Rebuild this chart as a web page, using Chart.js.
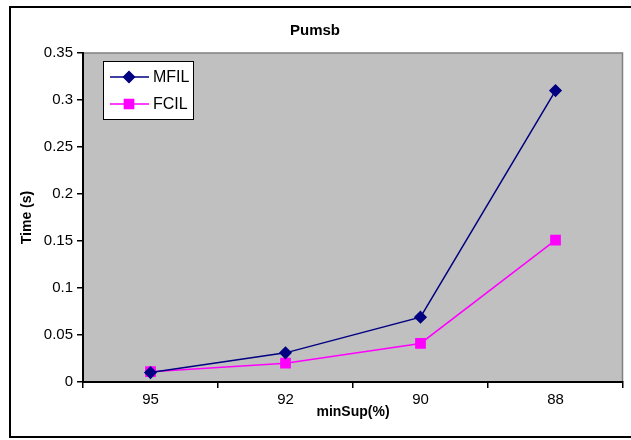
<!DOCTYPE html>
<html lang="en">
<head>
    <meta charset="UTF-8">
    <title>Pumsb</title>
    <script src="https://cdn.jsdelivr.net/npm/chart.js"></script>
    <style>
        body {
            margin: 0;
            padding: 0;
            background-color: white;
        }
        .chart-container {
            width: 631px;
            height: 440px;
        }
    </style>
</head>
<body>

<div class="chart-container">
    <canvas id="grafico"></canvas>
</div>

<script>
// Dados do gráfico
var categorias = ['95', '92', '90', '88'];
var valoresMFIL = [0.01, 0.031, 0.069, 0.31];
var valoresFCIL = [0.011, 0.02, 0.041, 0.151];
var ticksY = [0, 0.05, 0.1, 0.15, 0.2, 0.25, 0.3, 0.35];

var fonte = "'Liberation Sans', Arial, sans-serif";

// Fundo cinzento da área do gráfico e moldura exterior
var fundoPlugin = {
    id: 'fundo',
    beforeDraw: function(chart) {
        var ctx = chart.ctx;
        var a = chart.chartArea;
        ctx.save();
        ctx.fillStyle = '#ffffff';
        ctx.fillRect(0, 0, chart.width, chart.height);
        ctx.fillStyle = '#c0c0c0';
        ctx.fillRect(a.left, a.top, a.right - a.left, a.bottom - a.top);
        ctx.strokeStyle = '#808080';
        ctx.lineWidth = 1.5;
        ctx.beginPath();
        ctx.moveTo(a.left, a.top);
        ctx.lineTo(a.right - 0.5, a.top);
        ctx.lineTo(a.right - 0.5, a.bottom);
        ctx.stroke();
        // moldura
        ctx.strokeStyle = '#000000';
        ctx.lineWidth = 2;
        ctx.strokeRect(10, 7, chart.width + 20, 430);
        ctx.restore();
    }
};

// Legenda dentro da área do gráfico
var legendaPlugin = {
    id: 'legendaInterna',
    afterDraw: function(chart) {
        var ctx = chart.ctx;
        var x = 103, y = 61, w = 90, h = 58;
        ctx.save();
        ctx.fillStyle = '#ffffff';
        ctx.fillRect(x, y, w, h);
        ctx.strokeStyle = '#000000';
        ctx.lineWidth = 1;
        ctx.strokeRect(x + 0.5, y + 0.5, w, h);
        chart.data.datasets.forEach(function(ds, i) {
            var ly = y + 16 + i * 27;
            ctx.strokeStyle = ds.borderColor;
            ctx.lineWidth = 1.5;
            ctx.beginPath();
            ctx.moveTo(x + 7, ly);
            ctx.lineTo(x + 46, ly);
            ctx.stroke();
            Chart.helpers.drawPoint(ctx, {
                pointStyle: ds.pointStyle,
                radius: ds.pointRadius,
                borderWidth: 1
            }, x + 26, ly);
            ctx.fillStyle = ds.backgroundColor;
            ctx.strokeStyle = ds.borderColor;
            ctx.fill();
            ctx.fillStyle = '#000000';
            ctx.font = '16px ' + fonte;
            ctx.textBaseline = 'middle';
            ctx.fillText(ds.label, x + 50, ly + 1);
        });
        ctx.restore();
    }
};

var ctx = document.getElementById('grafico').getContext('2d');
new Chart(ctx, {
    type: 'line',
    data: {
        labels: categorias,
        datasets: [{
            label: 'MFIL',
            data: valoresMFIL,
            borderColor: '#000080',
            backgroundColor: '#000080',
            borderWidth: 1.5,
            pointStyle: 'rectRot',
            pointRadius: 5.5,
            pointHoverRadius: 5.5,
            tension: 0
        }, {
            label: 'FCIL',
            data: valoresFCIL,
            borderColor: '#ff00ff',
            backgroundColor: '#ff00ff',
            borderWidth: 1.5,
            pointStyle: 'rect',
            pointRadius: 6.5,
            pointHoverRadius: 6.5,
            tension: 0
        }]
    },
    options: {
        responsive: true,
        maintainAspectRatio: false,
        animation: false,
        layout: {
            padding: { top: 0, left: 0, right: 1, bottom: 0 }
        },
        plugins: {
            legend: { display: false },
            tooltip: { enabled: false },
            title: {
                display: true,
                text: 'Pumsb',
                color: '#000000',
                font: { family: fonte, size: 15, weight: 'bold' },
                padding: { top: 22, bottom: 13 }
            }
        },
        scales: {
            x: {
                offset: true,
                afterFit: function(s) { s.height = 58; },
                grid: {
                    offset: true,
                    drawOnChartArea: false,
                    drawTicks: true,
                    tickLength: 6,
                    color: '#000000',
                    lineWidth: 1.5
                },
                border: { color: '#000000', width: 2 },
                ticks: {
                    color: '#000000',
                    padding: 3,
                    font: { family: fonte, size: 15 }
                },
                title: {
                    display: true,
                    text: 'minSup(%)',
                    color: '#000000',
                    font: { family: fonte, size: 14, weight: 'bold' },
                    padding: { top: 0, bottom: 19 }
                }
            },
            y: {
                min: 0,
                max: 0.35,
                afterFit: function(s) { s.width = 83; },
                afterBuildTicks: function(s) {
                    s.ticks = ticksY.map(function(v) { return { value: v }; });
                },
                grid: {
                    drawOnChartArea: false,
                    drawTicks: true,
                    tickLength: 6,
                    color: '#000000',
                    lineWidth: 1.5
                },
                border: { color: '#000000', width: 2 },
                ticks: {
                    color: '#000000',
                    padding: 4,
                    font: { family: fonte, size: 15 },
                    callback: function(v) { return String(Number(v.toFixed(2))); }
                },
                title: {
                    display: true,
                    text: 'Time (s)',
                    color: '#000000',
                    font: { family: fonte, size: 14, weight: 'bold' },
                    padding: { top: 19, bottom: 0 }
                }
            }
        }
    },
    plugins: [fundoPlugin, legendaPlugin]
});
</script>

</body>
</html>
